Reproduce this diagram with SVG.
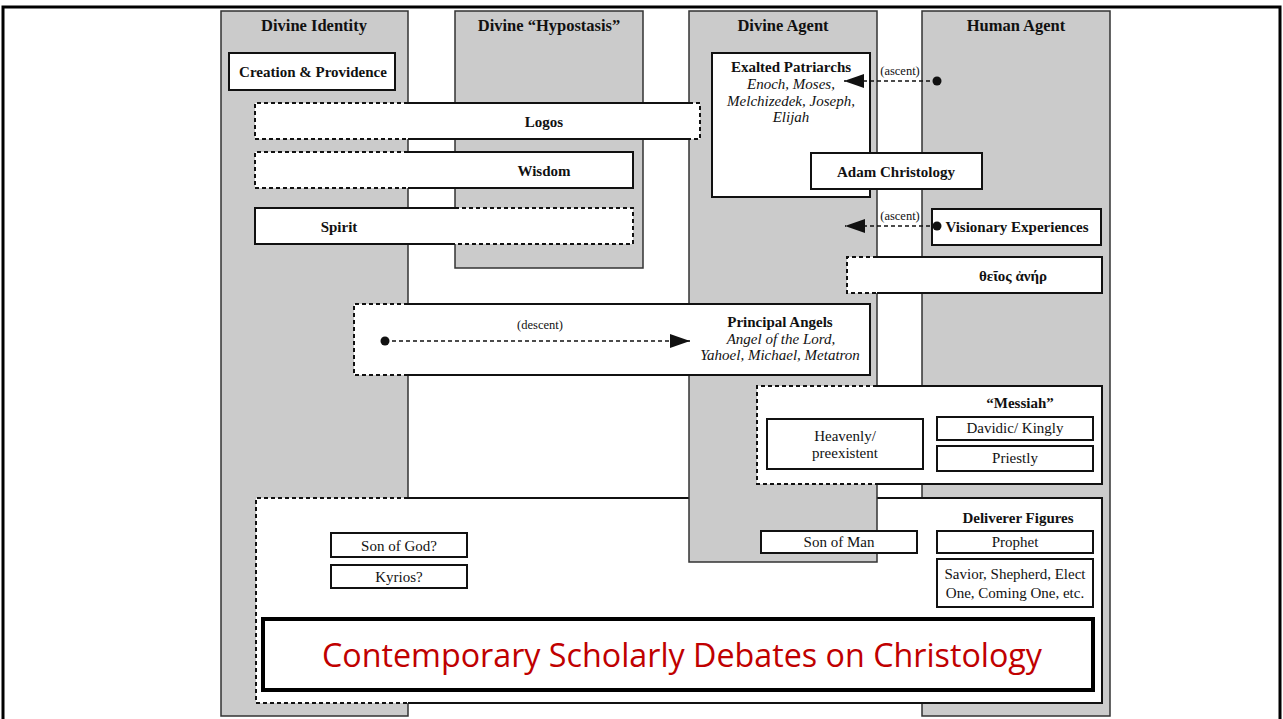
<svg xmlns="http://www.w3.org/2000/svg" width="1283" height="719" viewBox="0 0 1283 719">
<style>
.col{fill:#cbcbcb;stroke:#333;stroke-width:1.5}
.wf{fill:#fff;stroke:none}
.sol{fill:none;stroke:#111;stroke-width:2}
.dsh{fill:none;stroke:#111;stroke-width:2;stroke-dasharray:4 3}
.box{fill:#fff;stroke:#111;stroke-width:2}
.hd{font-family:"Liberation Serif",serif;font-weight:bold;font-size:16.5px;fill:#111;text-anchor:middle}
.b{font-family:"Liberation Serif",serif;font-weight:bold;font-size:15px;fill:#111;text-anchor:middle}
.r{font-family:"Liberation Serif",serif;font-size:15px;fill:#111;text-anchor:middle}
.i{font-family:"Liberation Serif",serif;font-style:italic;font-size:15px;fill:#111;text-anchor:middle}
.s{font-family:"Liberation Serif",serif;font-size:12.5px;fill:#111;text-anchor:middle}
.conn{fill:none;stroke:#111;stroke-width:1.6;stroke-dasharray:4 3}
</style>
<defs>
<marker id="arrow" markerUnits="userSpaceOnUse" markerWidth="20" markerHeight="14" refX="20" refY="7" orient="auto"><path d="M0,0 L20,7 L0,14 z" fill="#111"/></marker>
<marker id="dot" markerUnits="userSpaceOnUse" markerWidth="10" markerHeight="10" refX="5" refY="5"><circle cx="5" cy="5" r="4.5" fill="#111"/></marker>
</defs>
<rect x="0" y="0" width="1283" height="719" fill="#fff"/>
<path d="M3,719 V7 H1280 V719" fill="none" stroke="#000" stroke-width="3"/>

<g id="col-divine-identity"><rect class="col" x="221" y="11" width="187" height="705"/><text class="hd" x="314" y="31">Divine Identity</text></g>
<g id="col-divine-hypostasis"><rect class="col" x="455" y="11" width="188" height="257"/><text class="hd" x="549" y="31">Divine “Hypostasis”</text></g>
<g id="col-human-agent"><rect class="col" x="922" y="11" width="188" height="705"/><text class="hd" x="1016" y="31">Human Agent</text></g>

<g id="bottom-box">
<rect class="wf" x="256" y="498" width="846" height="205"/>
<path class="dsh" d="M408,498 H256 V703 H408"/>
<path class="sol" d="M408,498 H1102 V703 H408"/>
</g>

<g id="col-divine-agent"><rect class="col" x="689" y="11" width="188" height="551"/><text class="hd" x="783" y="31">Divine Agent</text></g>

<g id="creation"><rect class="box" x="229" y="53" width="166" height="37"/><text class="b" x="313" y="77">Creation &amp; Providence</text></g>

<g id="logos"><rect class="wf" x="255" y="103" width="445" height="36"/>
<path class="dsh" d="M408,103 H255 V139 H408 M689,103 H700 V139 H689"/>
<path class="sol" d="M408,103 H689 M408,139 H689"/>
<text class="b" x="544" y="127">Logos</text></g>

<g id="wisdom"><rect class="wf" x="255" y="152" width="378" height="36"/>
<path class="dsh" d="M408,152 H255 V188 H408"/>
<path class="sol" d="M408,152 H633 V188 H408"/>
<text class="b" x="544" y="176">Wisdom</text></g>

<g id="spirit"><rect class="wf" x="255" y="208" width="378" height="36"/>
<path class="sol" d="M455,208 H255 V244 H455"/>
<path class="dsh" d="M455,208 H633 V244 H455"/>
<text class="b" x="339" y="232">Spirit</text></g>

<g id="exalted-patriarchs"><rect class="box" x="712" y="53" width="158" height="144"/>
<text class="b" x="791" y="72">Exalted Patriarchs</text>
<text class="i" x="791" y="89">Enoch, Moses,</text>
<text class="i" x="791" y="106">Melchizedek, Joseph,</text>
<text class="i" x="791" y="122">Elijah</text></g>

<g id="adam-christology"><rect class="box" x="811" y="153" width="171" height="36"/><text class="b" x="896" y="177">Adam Christology</text></g>

<g id="visionary"><rect class="box" x="932" y="209" width="169" height="36"/><text class="b" x="1017" y="232">Visionary Experiences</text></g>

<g id="theios-aner"><rect class="wf" x="847" y="257" width="255" height="36"/>
<path class="dsh" d="M877,257 H847 V293 H877"/>
<path class="sol" d="M877,257 H1102 V293 H877"/>
<text class="b" x="1013" y="281">θεῖος ἀνήρ</text></g>

<g id="principal-angels"><rect class="wf" x="354" y="304" width="516" height="71"/>
<path class="dsh" d="M408,304 H354 V375 H408"/>
<path class="sol" d="M408,304 H870 V375 H408"/>
<text class="b" x="780" y="327">Principal Angels</text>
<text class="i" x="781" y="344">Angel of the Lord,</text>
<text class="i" x="780" y="360">Yahoel, Michael, Metatron</text></g>

<g id="messiah"><rect class="wf" x="757" y="386" width="345" height="98"/>
<path class="dsh" d="M877,386 H757 V484 H877"/>
<path class="sol" d="M877,386 H1102 V484 H877"/>
<text class="b" x="1020" y="408">“Messiah”</text></g>
<g id="heavenly"><rect class="box" x="767" y="419" width="156" height="50"/><text class="r" x="845" y="441">Heavenly/</text><text class="r" x="845" y="458">preexistent</text></g>
<g id="davidic"><rect class="box" x="937" y="417" width="156" height="23"/><text class="r" x="1015" y="433">Davidic/ Kingly</text></g>
<g id="priestly"><rect class="box" x="937" y="446" width="156" height="25"/><text class="r" x="1015" y="463">Priestly</text></g>

<g id="deliverer-figures"><text class="b" x="1018" y="523">Deliverer Figures</text></g>
<g id="prophet"><rect class="box" x="937" y="531" width="156" height="22"/><text class="r" x="1015" y="547">Prophet</text></g>
<g id="savior"><rect class="box" x="937" y="559" width="156" height="48"/><text class="r" x="1015" y="579">Savior, Shepherd, Elect</text><text class="r" x="1015" y="598">One, Coming One, etc.</text></g>
<g id="son-of-man"><rect class="box" x="761" y="531" width="156" height="22"/><text class="r" x="839" y="547">Son of Man</text></g>
<g id="son-of-god"><rect class="box" x="331" y="533" width="136" height="24"/><text class="r" x="399" y="551">Son of God?</text></g>
<g id="kyrios"><rect class="box" x="331" y="565" width="136" height="23"/><text class="r" x="399" y="582">Kyrios?</text></g>

<g id="title"><rect x="263" y="619" width="830" height="71" fill="#fff" stroke="#000" stroke-width="4"/>
<text x="682" y="667" font-family="'Open Sans','Liberation Sans',sans-serif" font-size="33" fill="#c00000" text-anchor="middle" textLength="720" lengthAdjust="spacingAndGlyphs">Contemporary Scholarly Debates on Christology</text></g>

<g id="connectors">
<path class="conn" d="M937,81 H844" marker-start="url(#dot)" marker-end="url(#arrow)"/>
<text class="s" x="900" y="75">(ascent)</text>
<path class="conn" d="M937,226 H845" marker-start="url(#dot)" marker-end="url(#arrow)"/>
<text class="s" x="900" y="220">(ascent)</text>
<path class="conn" d="M385,341 H690" marker-start="url(#dot)" marker-end="url(#arrow)"/>
<text class="s" x="540" y="329">(descent)</text>
</g>
</svg>
